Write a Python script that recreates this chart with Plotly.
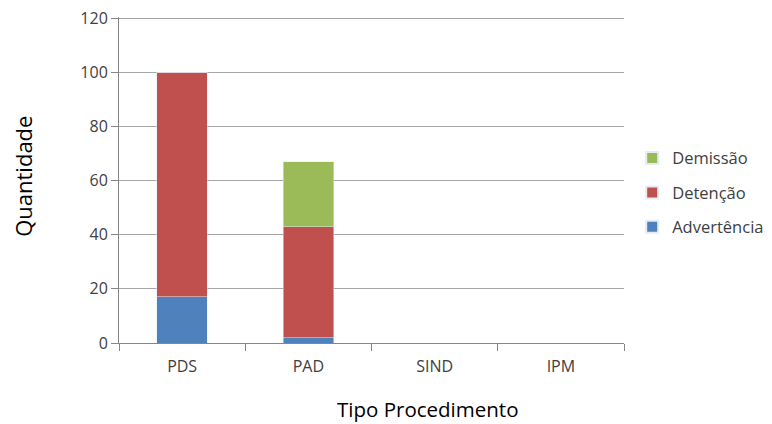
import plotly.graph_objects as go

categories = ["PDS", "PAD", "SIND", "IPM"]
advertencia = [17, 2, 0, 0]
detencao = [83, 41, 0, 0]
demissao = [0, 24, 0, 0]
y_ticks = [0, 20, 40, 60, 80, 100, 120]

font_family = "Open Sans, Liberation Sans, sans-serif"

fig = go.Figure()
fig.add_trace(go.Bar(x=categories, y=advertencia, name="Advertência", marker_color="#4F81BD",
                     legendgroup="a", legendrank=3))
fig.add_trace(go.Bar(x=categories, y=detencao, name="Detenção", marker_color="#C0504D",
                     legendgroup="b", legendrank=2))
fig.add_trace(go.Bar(x=categories, y=demissao, name="Demissão", marker_color="#9BBB59",
                     legendgroup="c", legendrank=1))

fig.update_layout(
    barmode="stack",
    bargap=0.6,
    width=764, height=416,
    margin=dict(l=111, r=148, t=9, b=81),
    plot_bgcolor="white", paper_bgcolor="white",
    font=dict(family=font_family, size=15, color="#404040"),
    legend=dict(
        traceorder="grouped",
        xref="container", yref="container",
        x=0.817, y=0.556, xanchor="left", yanchor="middle",
        font=dict(size=16.5, color="#404040"),
        itemsizing="constant",
        itemwidth=30,
        tracegroupgap=10,
    ),
    showlegend=True,
    annotations=[
        dict(text="Quantidade", textangle=-90, xref="paper", yref="paper",
             x=-0.19, y=0.51, xanchor="center", yanchor="middle", showarrow=False,
             font=dict(size=22, color="#000000")),
        dict(text="Tipo Procedimento", xref="paper", yref="paper",
             x=0.61, y=-0.203, xanchor="center", yanchor="middle", showarrow=False,
             font=dict(size=20.5, color="#000000")),
    ],
)
fig.update_xaxes(
    automargin=False,
    showline=True, linecolor="#868686", linewidth=1,
    ticks="outside", tickson="boundaries", ticklen=7, tickcolor="#868686",
    ticklabelstandoff=9,
    tickfont=dict(size=16, color="#404040"),
)
fig.update_yaxes(
    automargin=False,
    range=[0, 120.4], tickvals=y_ticks,
    ticksuffix="\u00a0\u00a0\u00a0",
    ticklabeloverflow="allow",
    showline=True, linecolor="#868686", linewidth=1,
    showgrid=True, gridcolor="#A6A6A6", gridwidth=1,
    ticks="outside", ticklen=7, tickcolor="#868686",
    tickfont=dict(size=16, color="#404040"),
    zeroline=False,
)

fig.write_html("out.html")
